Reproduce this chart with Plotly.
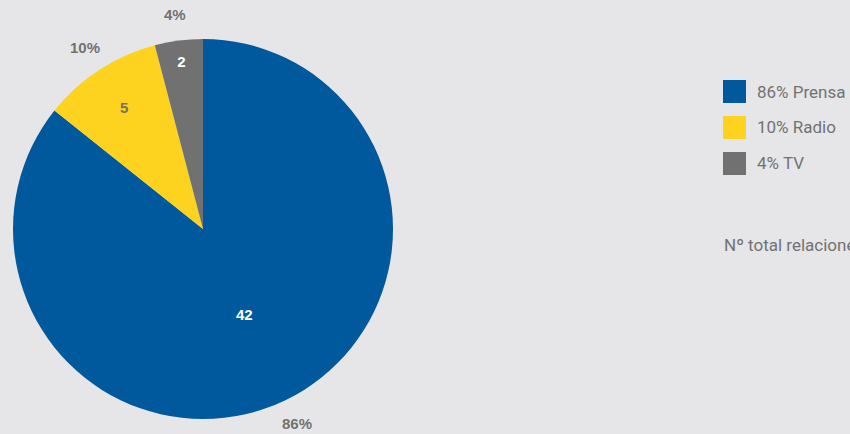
import math
import plotly.graph_objects as go

categories = ["Prensa", "Radio", "TV"]
values = [42, 5, 2]
colors = ["#00599c", "#fdd31f", "#717171"]
inside_text_colors = ["#ffffff", "#7a7258", "#ffffff"]

total = sum(values)
percents = [round(v / total * 100) for v in values]
legend_labels = [f"{p}% {c}" for p, c in zip(percents, categories)]

W, H = 850, 434
grey = "#727272"
bold_font = "Liberation Sans, Arial"
narrow_font = "Liberation Sans Narrow, Roboto, Arial"

# pie domain from pixel centre/radius
cx, cy, r = 203, 229, 190
dom_x = [(cx - r) / W, (cx + r) / W]
dom_y = [1 - (cy + r) / H, 1 - (cy - r) / H]

fig = go.Figure()

fig.add_trace(go.Pie(
    labels=categories,
    values=values,
    sort=False,
    direction="clockwise",
    rotation=0,
    marker=dict(colors=colors, line=dict(width=0)),
    texttemplate="%{value}",
    textposition="inside",
    insidetextorientation="horizontal",
    insidetextfont=dict(family=bold_font, size=15, color=inside_text_colors, weight="bold"),
    domain=dict(x=dom_x, y=dom_y),
    showlegend=False,
))

# percentage labels outside the pie, on each slice's mid angle
label_r = 216
cum = 0
for v, p in zip(values, percents):
    mid = (cum + v / 2) / total * 2 * math.pi
    cum += v
    px_x = cx + label_r * math.sin(mid)
    px_y = cy - label_r * math.cos(mid)
    fig.add_annotation(
        x=px_x / W, y=1 - px_y / H, xref="paper", yref="paper",
        text=f"{p}%", showarrow=False, xanchor="center", yanchor="middle",
        font=dict(family=bold_font, size=15, color=grey, weight="bold"),
    )

# legend drawn as squares + labels
top0, step, sq = 80, 36, 23
for i, (lab, col) in enumerate(zip(legend_labels, colors)):
    y0 = top0 + i * step
    fig.add_shape(
        type="rect", xref="paper", yref="paper",
        x0=723 / W, x1=(723 + sq) / W,
        y0=1 - (y0 + sq) / H, y1=1 - y0 / H,
        fillcolor=col, line=dict(width=0),
    )
    fig.add_annotation(
        x=755 / W, y=1 - (y0 + sq / 2) / H, xref="paper", yref="paper",
        text=lab, showarrow=False, xanchor="left", yanchor="middle",
        font=dict(family=narrow_font, size=17, color=grey),
    )

fig.add_annotation(
    x=722 / W, y=1 - 245 / H, xref="paper", yref="paper",
    text="Nº total relaciones", showarrow=False,
    xanchor="left", yanchor="middle",
    font=dict(family=narrow_font, size=17, color=grey),
)

fig.update_layout(
    width=W, height=H,
    margin=dict(l=0, r=0, t=0, b=0),
    paper_bgcolor="#e6e6e8",
    plot_bgcolor="#e6e6e8",
)

fig.write_html(
    "out.html",
    config={"displayModeBar": False},
    post_script="document.body.style.margin='0';",
)
